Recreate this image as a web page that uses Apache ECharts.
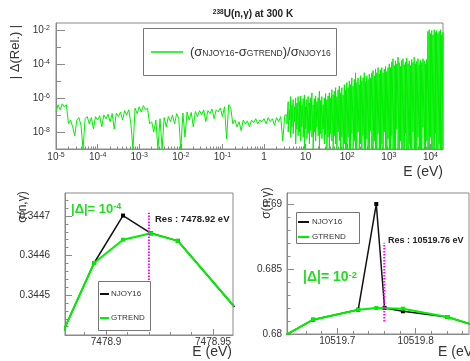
<!DOCTYPE html>
<html><head><meta charset="utf-8">
<script src="https://cdn.jsdelivr.net/npm/echarts@6/dist/echarts.min.js"></script>
<style>html,body{margin:0;padding:0;background:#fff}#c{width:470px;height:361px}</style>
</head><body><div id="c"></div>
<script>
// ---------- Top panel: |Δ(Rel.)| vs E ----------
// low-energy part, sampled on a log10(E) grid from -5.00 step 0.05
const sparseStartExp = -5.0, sparseStepExp = 0.05;
const sparseRel = [
 1.5e-7,4e-7,2e-7,4.5e-7,3e-7,4e-7,3e-8,5e-8,2e-8,6e-9,
 5e-8,7e-8,2.5e-8,1e-9,6e-8,8e-8,3e-8,7e-8,1.5e-8,8e-8,
 5e-8,9e-8,2e-8,1e-7,6e-8,1.1e-7,4e-8,1.2e-7,1.5e-8,1.3e-7,
 8e-8,1.5e-7,5e-8,1.8e-7,1e-7,2e-7,3e-8,1e-9,2.5e-7,1.2e-7,
 3e-7,1.5e-7,3.5e-7,2e-7,2.5e-7,3e-8,4e-8,1e-8,5e-8,1e-9,
 6e-8,1e-9,7e-8,2e-8,8e-8,4e-8,1e-7,3e-8,1.2e-7,6e-8,
 1e-9,1.3e-7,5e-9,1.5e-7,5e-8,1.4e-7,2e-8,1.6e-7,8e-8,1.8e-7,
 1e-7,2e-7,4e-8,1.8e-7,1.2e-7,2.2e-7,6e-8,2e-7,1.5e-7,2.5e-7,
 8e-8,3e-7,4e-9,4e-7,2.5e-7,3e-8,5e-8,2e-8,4e-8,1.2e-8,
 5e-8,3e-8,4.5e-8,2e-8,5e-8,3.5e-8,6e-8,3e-8,5e-8,4e-8,
 6e-8,3e-8,7e-8,4e-8,6e-8,2.5e-8,7e-8,4e-8,8e-8,3e-9,1e-7];
// high-energy dense part, log10(E) grid from 0.55 step 0.03: upper and lower excursions
const denseStartExp = 0.55, denseStepExp = 0.03;
const denseHi = [
 1e-7,6e-7,2e-7,1.2e-6,4e-7,8e-7,3e-7,1e-6,5e-7,1.2e-6,
 6e-7,1.3e-6,4e-7,9e-7,1.5e-6,3e-7,8e-7,1.2e-6,5e-7,1e-6,
 2e-6,4e-7,9e-7,1.3e-6,6e-7,1e-6,2.5e-6,7e-7,1.2e-6,4e-7,
 1e-6,1.8e-6,8e-7,1.3e-6,
 2e-6,1e-6,3e-6,1.5e-6,2.5e-6,4e-6,1.2e-6,3e-6,5e-6,2e-6,4e-6,1.5e-6,6e-6,3e-6,
 8e-6,4e-6,1e-5,6e-6,1.5e-5,5e-6,1.2e-5,3e-5,8e-6,1.5e-5,
 6e-6,2e-5,1e-5,1.5e-5,3e-5,9e-6,2e-5,1.2e-5,2.5e-5,1.5e-5,3e-5,
 4e-5,2e-5,5e-5,3e-5,6e-5,2.5e-5,4.5e-5,6e-5,3e-5,5e-5,7e-5,3.5e-5,6e-5,
 1e-4,6e-5,1.3e-4,2e-4,8e-5,1.5e-4,1e-4,2.5e-4,1.2e-4,7e-5,
 1.6e-4,2e-4,9e-5,1.3e-4,2.2e-4,1e-4,1.5e-4,8e-5,1.8e-4,1.2e-4,
 2.5e-4,1e-4,1.4e-4,2e-4,9e-5,1.6e-4,1.2e-4,2e-4,1.5e-4,1e-4,1.8e-4,
 8e-3,1e-2,6e-3,9e-3,5e-3,1e-2,7e-3,9e-3,6e-3,8e-3,1e-2,5e-3,7e-3];
const denseLo = [
 3e-8,1e-8,5e-8,5e-9,2e-8,8e-9,4e-8,2e-9,1.5e-8,6e-9,
 1e-8,3e-9,2e-8,5e-9,1e-9,1.5e-8,4e-9,8e-9,2e-9,1.2e-8,
 5e-9,1e-9,1e-8,3e-9,2e-8,6e-9,1e-9,8e-9,4e-9,1.5e-8,
 2e-9,7e-9,1e-9,5e-9,
 1e-9,8e-9,3e-9,1e-9,6e-9,2e-9,1e-9,1e-8,3e-9,1e-9,5e-9,1e-9,2e-9,1e-9,
 1e-9,5e-9,1e-9,1e-9,8e-9,1e-9,3e-9,1e-9,1e-9,1e-8,
 1e-9,2e-9,1e-9,6e-9,1e-9,1e-9,4e-9,1e-9,1e-9,1.2e-8,1e-9,
 1e-9,3e-9,1e-9,1e-9,8e-9,1e-9,1e-9,2e-9,1e-9,1e-8,1e-9,1e-9,4e-9,
 1e-9,1e-9,6e-9,1e-9,1e-9,1e-9,1.5e-8,1e-9,1e-9,3e-9,
 1e-9,1e-9,1e-9,8e-9,1e-9,1e-9,2e-9,1e-9,1e-9,1e-8,
 1e-9,1e-9,1e-9,5e-9,1e-9,1e-9,1e-9,2e-8,1e-9,1e-9,3e-9,
 1e-9,1e-9,5e-9,1e-9,1e-9,1e-9,8e-9,1e-9,1e-9,2e-9,1e-9,1e-9,1e-9];
const topXTicks = [1e-5,1e-4,1e-3,1e-2,1e-1,1,10,100,1000,10000];
const topYLabels = [1e-8,1e-6,1e-4,1e-2];
const topYMinor = [1e-9,1e-7,1e-5,1e-3];

// ---------- Bottom-left: resonance at 7478.92 eV ----------
const leftE      = [7478.88, 7478.8944, 7478.9079, 7478.921, 7478.9335, 7478.96];
const leftNjoy   = [0.344409, 0.344581, 0.344701, 0.344656, 0.344637, 0.34447];
const leftGtrend = [0.344409, 0.344581, 0.34464, 0.344656, 0.344637, 0.34447];
const leftRes = 7478.92, leftResSpan = [0.3445, 0.344708];
const leftXTicks = [7478.9, 7478.95];
const leftXMinor = [7478.89, 7478.91, 7478.92, 7478.93, 7478.94];
const leftYTicks = [0.3445, 0.3446, 0.3447];
const leftYMinor = [0.34442,0.34444,0.34446,0.34448,0.34452,0.34454,0.34456,0.34458,0.34462,0.34464,0.34466,0.34468,0.34472,0.34474];

// ---------- Bottom-right: resonance at 10519.76 eV ----------
const rightNjoyE   = [10519.63, 10519.6693, 10519.7268, 10519.7498, 10519.7604, 10519.7838, 10519.8405, 10519.875];
const rightNjoy    = [0.67978, 0.6811, 0.68187, 0.6900, 0.6820, 0.68175, 0.68131, 0.68066];
const rightGtrendE = [10519.63, 10519.6693, 10519.7268, 10519.7498, 10519.7838, 10519.8405, 10519.875];
const rightGtrend  = [0.67978, 0.6811, 0.68187, 0.6820, 0.68195, 0.68131, 0.68066];
const rightRes = 10519.76, rightResSpan = [0.68097, 0.68702];
const rightXTicks = [10519.7, 10519.8];
const rightXMinor = [10519.64,10519.66,10519.68,10519.72,10519.74,10519.76,10519.78,10519.82,10519.84,10519.86];
const rightYTicks = [0.68, 0.685, 0.69];
const rightYMinor = [0.681,0.682,0.683,0.684,0.686,0.687,0.688,0.689,0.69];

// ---------- build ----------
const topPts = [];
sparseRel.forEach((v, i) => topPts.push([Math.pow(10, sparseStartExp + i * sparseStepExp), v]));
denseHi.forEach((v, i) => {
  const e = Math.pow(10, denseStartExp + i * denseStepExp);
  topPts.push([e, v]);
  topPts.push([e, denseLo[i]]);
});
const zip = (a, b) => a.map((x, i) => [x, b[i]]);

const GREEN = '#00ee00', FRAME = '#8a8a8a', TXT = '#333';
const FONT = 'Liberation Sans, Arial, Helvetica, sans-serif';
const supRich = {
  b: { fontSize: 10, color: TXT, lineHeight: 10, padding: [4, 0, 0, 0], verticalAlign: 'bottom', fontFamily: FONT },
  s: { fontSize: 7, color: TXT, lineHeight: 7, padding: [0, 0, 7, 0], verticalAlign: 'top', fontFamily: FONT }
};
function pow10Label(v) {
  const e = Math.round(Math.log10(v));
  if (e === 0) return '{b|1}';
  if (e === 1) return '{b|10}';
  return '{b|10}{s|' + e + '}';
}
function majorAxis(o) {
  return Object.assign({
    axisLine: { show: true, lineStyle: { color: FRAME, width: 1 } },
    axisTick: { show: true, inside: true, length: 6, lineStyle: { color: FRAME } },
    splitLine: { show: false },
    axisLabel: { color: TXT, fontSize: 10, fontFamily: FONT }
  }, o);
}
function minorAxis(o, len) {
  return Object.assign({
    axisLine: { show: false },
    axisTick: { show: true, inside: true, length: len, customValues: o.ticks, lineStyle: { color: FRAME } },
    axisLabel: { show: false },
    splitLine: { show: false }
  }, o);
}

const chart = echarts.init(document.getElementById('c'), null, { renderer: 'canvas', width: 470, height: 361 });
const option = {
  animation: false,
  backgroundColor: '#fff',
  textStyle: { fontFamily: FONT },
  grid: [
    { left: 56, top: 23, width: 387, height: 126, show: true, borderColor: FRAME, borderWidth: 1, backgroundColor: 'transparent' },
    { left: 65, top: 193, width: 168, height: 142, show: true, borderColor: FRAME, borderWidth: 1, backgroundColor: 'transparent' },
    { left: 287, top: 193, width: 182, height: 141, show: true, borderColor: FRAME, borderWidth: 1, backgroundColor: 'transparent' }
  ],
  xAxis: [
    majorAxis({ type: 'log', gridIndex: 0, min: 1e-5, max: 2e4, position: 'bottom',
      axisTick: { show: true, inside: true, length: 5, customValues: topXTicks, lineStyle: { color: FRAME } },
      axisLabel: { customValues: topXTicks, margin: 3, formatter: pow10Label, rich: supRich } }),
    minorAxis({ type: 'log', gridIndex: 0, min: 1e-5, max: 2e4, position: 'bottom',
      ticks: (function(){ const t=[]; topXTicks.forEach(d=>{ for(let k=2;k<=9;k++){ if(d*k<2e4) t.push(d*k);} }); return t; })() }, 2.5),
    majorAxis({ type: 'value', gridIndex: 1, min: 7478.8808, max: 7478.9593, position: 'bottom',
      axisTick: { show: true, inside: true, length: 6, customValues: leftXTicks, lineStyle: { color: FRAME } },
      axisLabel: { customValues: leftXTicks, color: TXT, fontSize: 10, margin: 2, formatter: v => String(v) } }),
    minorAxis({ type: 'value', gridIndex: 1, min: 7478.8808, max: 7478.9593, position: 'bottom', ticks: leftXMinor }, 3),
    majorAxis({ type: 'value', gridIndex: 2, min: 10519.636, max: 10519.868, position: 'bottom',
      axisTick: { show: true, inside: true, length: 6, customValues: rightXTicks, lineStyle: { color: FRAME } },
      axisLabel: { customValues: rightXTicks, color: TXT, fontSize: 10, margin: 2, formatter: v => String(v) } }),
    minorAxis({ type: 'value', gridIndex: 2, min: 10519.636, max: 10519.868, position: 'bottom', ticks: rightXMinor }, 3)
  ],
  yAxis: [
    majorAxis({ type: 'log', gridIndex: 0, min: 1e-9, max: 0.025, position: 'left',
      axisTick: { show: true, inside: true, length: 9, customValues: topYLabels, lineStyle: { color: FRAME } },
      axisLabel: { customValues: topYLabels, margin: 6, formatter: pow10Label, rich: supRich } }),
    minorAxis({ type: 'log', gridIndex: 0, min: 1e-9, max: 0.025, position: 'left', ticks: topYMinor }, 5),
    majorAxis({ type: 'value', gridIndex: 1, min: 0.344399, max: 0.344758, position: 'left',
      axisTick: { show: true, inside: true, length: 7, customValues: leftYTicks, lineStyle: { color: FRAME } },
      axisLabel: { customValues: leftYTicks, color: TXT, fontSize: 10, margin: 15, formatter: v => String(v) } }),
    minorAxis({ type: 'value', gridIndex: 1, min: 0.344399, max: 0.344758, position: 'left', ticks: leftYMinor }, 3.5),
    majorAxis({ type: 'value', gridIndex: 2, min: 0.68, max: 0.69085, position: 'left',
      axisTick: { show: true, inside: true, length: 7, customValues: rightYTicks, lineStyle: { color: FRAME } },
      axisLabel: { customValues: rightYTicks, color: TXT, fontSize: 10, margin: 5, formatter: v => String(v) } }),
    minorAxis({ type: 'value', gridIndex: 2, min: 0.68, max: 0.69085, position: 'left', ticks: rightYMinor }, 3.5)
  ],
  series: [
    { type: 'line', xAxisIndex: 0, yAxisIndex: 0, data: topPts, showSymbol: false, clip: true,
      lineStyle: { color: GREEN, width: 1 }, sampling: null, z: 3 },
    { type: 'line', xAxisIndex: 2, yAxisIndex: 2, data: zip(leftE, leftNjoy), clip: true,
      symbol: 'rect', symbolSize: 4, itemStyle: { color: '#000' }, lineStyle: { color: '#111', width: 1.5 }, z: 3 },
    { type: 'line', xAxisIndex: 2, yAxisIndex: 2, data: zip(leftE, leftGtrend), clip: true,
      symbol: 'rect', symbolSize: 4, itemStyle: { color: GREEN }, lineStyle: { color: GREEN, width: 2 }, z: 4 },
    { type: 'line', xAxisIndex: 2, yAxisIndex: 2, data: [[leftRes, leftResSpan[0]], [leftRes, leftResSpan[1]]],
      showSymbol: false, lineStyle: { color: '#ff00ff', width: 2, type: [1.5, 1.5] }, z: 5 },
    { type: 'line', xAxisIndex: 4, yAxisIndex: 4, data: zip(rightNjoyE, rightNjoy), clip: true,
      symbol: 'rect', symbolSize: 4, itemStyle: { color: '#000' }, lineStyle: { color: '#111', width: 1.5 }, z: 3 },
    { type: 'line', xAxisIndex: 4, yAxisIndex: 4, data: zip(rightGtrendE, rightGtrend), clip: true,
      symbol: 'rect', symbolSize: 4, itemStyle: { color: GREEN }, lineStyle: { color: GREEN, width: 2 }, z: 4 },
    { type: 'line', xAxisIndex: 4, yAxisIndex: 4, data: [[rightRes, rightResSpan[0]], [rightRes, rightResSpan[1]]],
      showSymbol: false, lineStyle: { color: '#ff00ff', width: 2, type: [1.5, 1.5] }, z: 5 }
  ],
  graphic: [
    // title
    { type: 'text', x: 253, y: 14, z: 10, style: { text: '{s|238}{b|U(n,γ) at 300 K}', textAlign: 'center', textVerticalAlign: 'middle',
      rich: { b: { fontSize: 10, fontWeight: 'bold', fill: '#222', lineHeight: 10, padding: [3,0,0,0], verticalAlign: 'bottom', fontFamily: FONT },
              s: { fontSize: 6.5, fontWeight: 'bold', fill: '#222', lineHeight: 7, padding: [0,0,6,0], verticalAlign: 'top', fontFamily: FONT } } } },
    // top y title
    { type: 'text', x: 15, y: 52, rotation: Math.PI / 2, style: { text: '| Δ(Rel.) |', fontSize: 13, fill: '#333', textAlign: 'center', textVerticalAlign: 'middle', fontFamily: FONT } },
    // top x title
    { type: 'text', x: 443, y: 172, style: { text: 'E (eV)', fontSize: 14, fill: '#333', textAlign: 'right', textVerticalAlign: 'middle', fontFamily: FONT } },
    // top legend
    { type: 'rect', shape: { x: 143.5, y: 28.5, width: 193, height: 47 }, style: { fill: '#fff', stroke: '#777', lineWidth: 1 }, z: 20 },
    { type: 'line', shape: { x1: 151, y1: 52, x2: 183, y2: 52 }, style: { stroke: GREEN, lineWidth: 1.5 }, z: 21 },
    { type: 'text', x: 190, y: 52, z: 21, style: { text: '{b|(σ}{s|NJOY16}{b|-σ}{s|GTREND}{b|)/σ}{s|NJOY16}', textVerticalAlign: 'middle',
      rich: { b: { fontSize: 13, fill: '#333', lineHeight: 13, padding: [0,0,3,0], verticalAlign: 'top', fontFamily: FONT },
              s: { fontSize: 8.5, fill: '#333', lineHeight: 9, verticalAlign: 'bottom', fontFamily: FONT } } } },
    // bottom-left texts
    { type: 'text', x: 23, y: 207, rotation: Math.PI / 2, style: { text: 'σ(n,γ)', fontSize: 12, fill: '#333', textAlign: 'center', textVerticalAlign: 'middle', fontFamily: FONT } },
    { type: 'text', x: 232, y: 352, style: { text: 'E (eV)', fontSize: 14, fill: '#333', textAlign: 'right', textVerticalAlign: 'middle', fontFamily: FONT } },
    { type: 'text', x: 71, y: 209, z: 10, style: { text: '{b||Δ|= 10}{s|-4}', textVerticalAlign: 'middle',
      rich: { b: { fontSize: 13, fontWeight: 'bold', fill: '#22dd22', lineHeight: 13, padding: [4,0,0,0], verticalAlign: 'bottom', fontFamily: FONT },
              s: { fontSize: 9, fontWeight: 'bold', fill: '#22dd22', lineHeight: 9, padding: [0,0,8,0], verticalAlign: 'top', fontFamily: FONT } } } },
    { type: 'text', x: 155, y: 219, z: 10, style: { text: 'Res : 7478.92 eV', fontSize: 9.5, fontWeight: 'bold', fill: '#222', textVerticalAlign: 'middle', fontFamily: FONT } },
    { type: 'rect', shape: { x: 98.5, y: 281.5, width: 52, height: 49 }, style: { fill: '#fff', stroke: '#777', lineWidth: 1 }, z: 20 },
    { type: 'line', shape: { x1: 100, y1: 294, x2: 109, y2: 294 }, style: { stroke: '#111', lineWidth: 2 }, z: 21 },
    { type: 'text', x: 111, y: 294, z: 21, style: { text: 'NJOY16', fontSize: 8, fill: '#333', textVerticalAlign: 'middle', fontFamily: FONT } },
    { type: 'line', shape: { x1: 100, y1: 318, x2: 109, y2: 318 }, style: { stroke: GREEN, lineWidth: 2 }, z: 21 },
    { type: 'text', x: 111, y: 318, z: 21, style: { text: 'GTREND', fontSize: 8, fill: '#333', textVerticalAlign: 'middle', fontFamily: FONT } },
    // bottom-right texts
    { type: 'text', x: 267, y: 203, rotation: Math.PI / 2, style: { text: 'σ(n,γ)', fontSize: 12, fill: '#333', textAlign: 'center', textVerticalAlign: 'middle', fontFamily: FONT } },
    { type: 'text', x: 438, y: 352, style: { text: 'E (eV)', fontSize: 14, fill: '#333', textAlign: 'left', textVerticalAlign: 'middle', fontFamily: FONT } },
    { type: 'text', x: 303, y: 277, z: 10, style: { text: '{b||Δ|= 10}{s|-2}', textVerticalAlign: 'middle',
      rich: { b: { fontSize: 14, fontWeight: 'bold', fill: '#22dd22', lineHeight: 14, padding: [4,0,0,0], verticalAlign: 'bottom', fontFamily: FONT },
              s: { fontSize: 9.5, fontWeight: 'bold', fill: '#22dd22', lineHeight: 10, padding: [0,0,8,0], verticalAlign: 'top', fontFamily: FONT } } } },
    { type: 'text', x: 388, y: 241, z: 10, style: { text: 'Res : 10519.76 eV', fontSize: 9, fontWeight: 'bold', fill: '#222', textVerticalAlign: 'middle', fontFamily: FONT } },
    { type: 'rect', shape: { x: 296.5, y: 212.5, width: 63, height: 31 }, style: { fill: '#fff', stroke: '#777', lineWidth: 1 }, z: 20 },
    { type: 'line', shape: { x1: 298, y1: 222, x2: 309, y2: 222 }, style: { stroke: '#111', lineWidth: 2 }, z: 21 },
    { type: 'text', x: 312, y: 222, z: 21, style: { text: 'NJOY16', fontSize: 8, fill: '#333', textVerticalAlign: 'middle', fontFamily: FONT } },
    { type: 'line', shape: { x1: 298, y1: 237, x2: 309, y2: 237 }, style: { stroke: GREEN, lineWidth: 2 }, z: 21 },
    { type: 'text', x: 312, y: 237, z: 21, style: { text: 'GTREND', fontSize: 8, fill: '#333', textVerticalAlign: 'middle', fontFamily: FONT } }
  ]
};
chart.setOption(option);
</script>
</body></html>
